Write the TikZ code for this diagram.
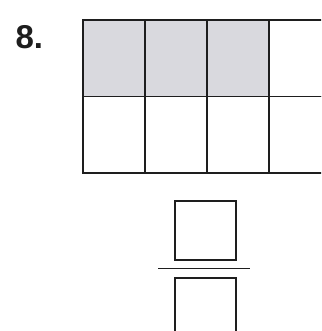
\documentclass[tikz,border=0pt]{standalone}
\usepackage{fontspec}
\setmainfont{Liberation Sans}
\definecolor{shade}{HTML}{D9D9DE}
\definecolor{ink}{HTML}{1E1E1E}
\begin{document}
\begin{tikzpicture}[x=1pt,y=-1pt,
  cell/.style={draw=ink,line width=1.4pt,minimum width=62pt,minimum height=76.5pt,inner sep=0pt,outer sep=0pt},
  filled/.style={cell,fill=shade},
  ansbox/.style={draw=ink,line width=1.3pt,minimum width=61pt,minimum height=59pt,inner sep=0pt,outer sep=0pt}]
\useasboundingbox (0,0) rectangle (321,331);
\clip (0,0) rectangle (321,331);
\fill[white] (0,0) rectangle (321,331);
\node[anchor=base west,font=\bfseries,text=ink,scale=1] (num) at (12,49) {\fontsize{33}{33}\selectfont 8.};
\node[filled,anchor=north west] (a1) at (83,20) {};
\node[filled,anchor=north west] (a2) at (145,20) {};
\node[filled,anchor=north west] (a3) at (207,20) {};
\node[cell,anchor=north west] (a4) at (269,20) {};
\node[cell,anchor=north west] (b1) at (83,96.5) {};
\node[cell,anchor=north west] (b2) at (145,96.5) {};
\node[cell,anchor=north west] (b3) at (207,96.5) {};
\node[cell,anchor=north west] (b4) at (269,96.5) {};
\node[ansbox,anchor=north west] (top) at (175,201) {};
\coordinate (fl) at (158,268.5);
\coordinate (fr) at (250,268.5);
\draw[ink,line width=1.2pt] (fl) -- (fr);
\node[ansbox,anchor=north west,minimum height=70pt] (bot) at (175,278) {};
\end{tikzpicture}
\end{document}
